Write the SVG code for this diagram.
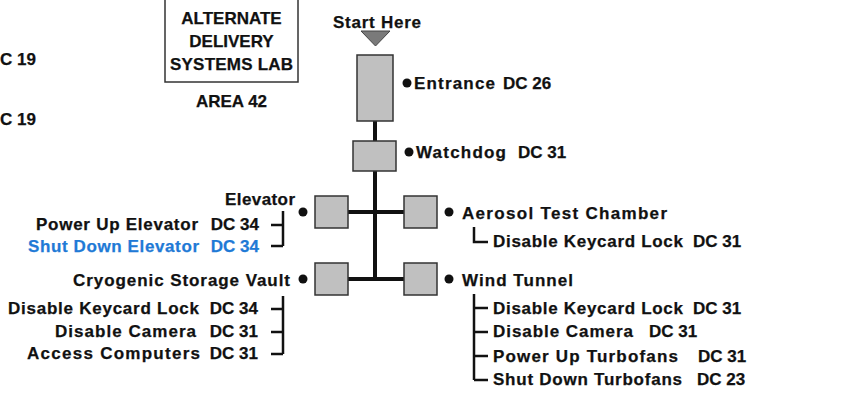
<svg xmlns="http://www.w3.org/2000/svg" width="850" height="400" viewBox="0 0 850 400">
<style>
text{font-family:"Liberation Sans",Arial,sans-serif;font-weight:bold;font-size:17px;fill:#111;stroke:#111;stroke-width:0.25}
.end{text-anchor:end}
.mid{text-anchor:middle}
.blue{fill:#1f7ad6;stroke:#1f7ad6}
.room{fill:#c0c0c0;stroke:#333;stroke-width:1.5}
.trunk{stroke:#111;stroke-width:4;fill:none}
.br{stroke:#111;stroke-width:2.5;fill:none}
.dot{fill:#111}
</style>
<rect width="850" height="400" fill="#fff"/>

<g id="edge-labels">
<text x="0" y="65">C 19</text>
<text x="0" y="125">C 19</text>
</g>

<g id="lab">
<rect x="165" y="-5" width="133" height="87" fill="#fff" stroke="#333" stroke-width="1.5"/>
<text class="mid" x="231.5" y="24">ALTERNATE</text>
<text class="mid" x="231.5" y="47">DELIVERY</text>
<text x="170" y="70" textLength="123">SYSTEMS LAB</text>
<text class="mid" x="231.5" y="107">AREA 42</text>
</g>

<g id="connectors">
<path class="trunk" d="M375 121V141M375 171V281M348 212H404M348 279H404"/>
<path class="br" d="M283 211V246M271 225H283M271 246H283"/>
<path class="br" d="M283 296V354M271 309H283M271 332H283M271 354H283"/>
<path class="br" d="M474 227V242H488"/>
<path class="br" d="M474 294V380M474 308H488M474 332H488M474 356H488M474 380H488"/>
</g>

<g id="start">
<text x="333" y="28" textLength="88">Start Here</text>
<polygon points="361,31 390,31 375.5,46" fill="#7a7a7a" stroke="#444" stroke-width="1"/>
</g>

<g id="entrance">
<rect class="room" x="357" y="55" width="36" height="66"/>
<circle class="dot" cx="407" cy="83" r="4.5"/>
<text x="414" y="89" textLength="81">Entrance</text>
<text x="503" y="89">DC 26</text>
</g>

<g id="watchdog">
<rect class="room" x="353" y="141" width="43" height="30"/>
<circle class="dot" cx="409" cy="152" r="4.5"/>
<text x="416" y="158" textLength="90">Watchdog</text>
<text x="518" y="158">DC 31</text>
</g>

<g id="elevator">
<rect class="room" x="315" y="196" width="33" height="32"/>
<circle class="dot" cx="303" cy="212" r="4.5"/>
<text x="225" y="205" textLength="70">Elevator</text>
<text x="36" y="230" textLength="162">Power Up Elevator</text>
<text class="end" x="259" y="230">DC 34</text>
<text class="blue" x="28" y="252" textLength="171">Shut Down Elevator</text>
<text class="end blue" x="259" y="252">DC 34</text>
</g>

<g id="aerosol">
<rect class="room" x="404" y="196" width="33" height="32"/>
<circle class="dot" cx="449" cy="212" r="4.5"/>
<text x="462" y="219" textLength="205">Aerosol Test Chamber</text>
<text x="493" y="247" textLength="190">Disable Keycard Lock</text>
<text x="693" y="247">DC 31</text>
</g>

<g id="cryo">
<rect class="room" x="315" y="263" width="33" height="32"/>
<circle class="dot" cx="303" cy="279" r="4.5"/>
<text x="73" y="286" textLength="217">Cryogenic Storage Vault</text>
<text x="8" y="314" textLength="191">Disable Keycard Lock</text>
<text class="end" x="258" y="314">DC 34</text>
<text x="55" y="337" textLength="141">Disable Camera</text>
<text class="end" x="258" y="337">DC 31</text>
<text x="27" y="359" textLength="173">Access Computers</text>
<text class="end" x="258" y="359">DC 31</text>
</g>

<g id="wind">
<rect class="room" x="404" y="263" width="33" height="32"/>
<circle class="dot" cx="449" cy="279" r="4.5"/>
<text x="462" y="286" textLength="111">Wind Tunnel</text>
<text x="493" y="314" textLength="190">Disable Keycard Lock</text>
<text x="693" y="314">DC 31</text>
<text x="493" y="337" textLength="140">Disable Camera</text>
<text x="649" y="337">DC 31</text>
<text x="493" y="362" textLength="185">Power Up Turbofans</text>
<text x="698" y="362">DC 31</text>
<text x="493" y="385" textLength="189">Shut Down Turbofans</text>
<text x="697" y="385">DC 23</text>
</g>
</svg>
